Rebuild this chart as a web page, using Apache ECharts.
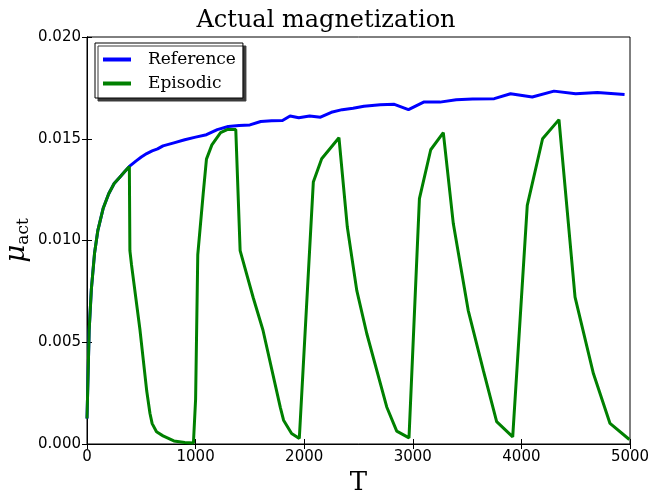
<!DOCTYPE html>
<html>
<head>
<meta charset="utf-8">
<script src="https://cdn.jsdelivr.net/npm/echarts@6/dist/echarts.min.js"></script>
<style>html,body{margin:0;padding:0;background:#fff}#c{width:652px;height:496px}</style>
</head>
<body>
<div id="c"></div>
<script>
const titleText = "Actual magnetization";
const xTicks = [0, 1000, 2000, 3000, 4000, 5000];
const yTicks = [0, 0.005, 0.010, 0.015, 0.020];

const refT = [0, 20, 40, 70, 100, 150, 200, 250, 300, 350, 390, 450, 500, 550, 600, 650, 700, 800, 900, 1000,
  1100, 1200, 1300, 1400, 1500, 1600, 1700, 1800, 1870, 1950, 2050, 2150, 2250, 2350, 2450, 2550, 2700, 2830,
  2960, 3100, 3250, 3400, 3550, 3750, 3900, 4100, 4300, 4500, 4700, 4950];
const refV = [0.00125, 0.0056, 0.0076, 0.0094, 0.0105, 0.0116, 0.0123, 0.0128, 0.0131, 0.0134, 0.01364, 0.0139,
  0.0141, 0.01427, 0.0144, 0.0145, 0.01465, 0.0148, 0.01495, 0.01508, 0.0152, 0.01545, 0.0156, 0.01565, 0.01568,
  0.01585, 0.01588, 0.0159, 0.01612, 0.01603, 0.01612, 0.01606, 0.0163, 0.01643, 0.0165, 0.0166, 0.01667, 0.01669,
  0.01643, 0.0168, 0.0168, 0.01692, 0.01695, 0.01697, 0.01721, 0.01705, 0.01734, 0.01721, 0.01727, 0.01717];

const epiT = [0, 20, 40, 70, 100, 150, 200, 250, 300, 350, 390, 395, 410, 488, 550, 580, 600, 640, 700, 800, 900, 980,
  1000, 1020, 1070, 1100, 1150, 1230, 1290, 1370, 1410, 1530, 1620, 1780, 1810, 1884, 1955,
  2084, 2161, 2320, 2397, 2484, 2576, 2760, 2852, 2965,
  3061, 3165, 3281, 3373, 3510, 3650, 3772, 3920,
  4054, 4195, 4346, 4494, 4663, 4816, 4994];
const epiV = [0.00125, 0.0056, 0.0076, 0.0094, 0.0105, 0.0116, 0.0123, 0.0128, 0.0131, 0.0134, 0.01364, 0.0095, 0.0088,
  0.0056, 0.0026, 0.0015, 0.0010, 0.0006, 0.0004, 0.00015, 0.00007, 0.00005,
  0.0022, 0.0093, 0.0123, 0.0140, 0.0147, 0.0153, 0.01545, 0.01545, 0.0095, 0.0072, 0.0056, 0.0018, 0.00117, 0.00052, 0.00027,
  0.01287, 0.01402, 0.01505, 0.01066, 0.00755, 0.00543, 0.00182, 0.00063, 0.0003,
  0.01206, 0.01446, 0.0153, 0.01083, 0.00657, 0.0036, 0.0011, 0.00035,
  0.01173, 0.0150, 0.01594, 0.00722, 0.00346, 0.00101, 0.00022];

const pairs = (t, v) => t.map((x, i) => [x, v[i]]);
const chart = echarts.init(document.getElementById('c'), null, {renderer: 'canvas'});
const serif = 'DejaVu Serif';
const sans = 'DejaVu Sans';
const tickStyle = {show: true, inside: true, length: 5, lineStyle: {color: '#000', width: 1}};
chart.setOption({
  animation: false,
  backgroundColor: '#fff',
  title: {text: titleText, left: 'center', top: 4, textStyle: {fontFamily: serif, fontWeight: 'normal', fontSize: 24, color: '#000'}},
  grid: {left: 87, right: 22, top: 37, bottom: 52, show: true, borderColor: '#000', borderWidth: 1,
         containLabel: false, outerBoundsMode: 'none'},
  legend: {
    orient: 'vertical', left: 95, top: 43, itemWidth: 28, itemHeight: 4, itemGap: 7,
    padding: [8, 7, 6, 8], icon: 'rect',
    backgroundColor: '#fff', borderColor: '#000', borderWidth: 1, borderRadius: 0,
    shadowColor: '#3a3a3a', shadowBlur: 0, shadowOffsetX: 3, shadowOffsetY: 3,
    textStyle: {fontFamily: serif, fontSize: 17, color: '#000', padding: [0, 0, 0, 12]},
    data: ['Reference', 'Episodic']
  },
  xAxis: [
    {type: 'value', min: xTicks[0], max: xTicks[xTicks.length - 1], interval: 1000,
     name: 'T', nameLocation: 'middle', nameGap: 26, nameMoveOverlap: false,
     nameTextStyle: {fontFamily: serif, fontSize: 26, color: '#000'},
     axisLine: {show: true, lineStyle: {color: '#000', width: 1}}, axisTick: tickStyle,
     axisLabel: {fontFamily: sans, fontSize: 15, color: '#000', margin: 6, formatter: v => String(v)},
     splitLine: {show: false}},
    {type: 'value', position: 'top', min: xTicks[0], max: xTicks[xTicks.length - 1], interval: 1000,
     axisLine: {show: true, lineStyle: {color: '#000', width: 1}}, axisTick: tickStyle,
     axisLabel: {show: false}, splitLine: {show: false}}
  ],
  yAxis: [
    {type: 'value', min: yTicks[0], max: yTicks[yTicks.length - 1], interval: 0.005,
     name: '{mu|μ}{sub|act}', nameLocation: 'middle', nameGap: 55, nameRotate: 90, nameMoveOverlap: false,
     nameTextStyle: {rich: {
       mu: {fontFamily: serif, fontStyle: 'italic', fontSize: 28, color: '#000'},
       sub: {fontFamily: serif, fontSize: 17, color: '#000', padding: [14, 0, 0, 0]}
     }},
     axisLine: {show: true, lineStyle: {color: '#000', width: 1}}, axisTick: tickStyle,
     axisLabel: {fontFamily: sans, fontSize: 15, color: '#000', margin: 6, formatter: v => v.toFixed(3)},
     splitLine: {show: false}},
    {type: 'value', position: 'right', min: yTicks[0], max: yTicks[yTicks.length - 1], interval: 0.005,
     axisLine: {show: true, lineStyle: {color: '#000', width: 1}}, axisTick: tickStyle,
     axisLabel: {show: false}, splitLine: {show: false}}
  ],
  series: [
    {name: 'Reference', type: 'line', data: pairs(refT, refV), showSymbol: false, symbol: 'none',
     itemStyle: {color: '#0000ff'}, lineStyle: {color: '#0000ff', width: 3}, z: 3},
    {name: 'Episodic', type: 'line', data: pairs(epiT, epiV), showSymbol: false, symbol: 'none',
     itemStyle: {color: '#008000'}, lineStyle: {color: '#008000', width: 3}, z: 4}
  ]
});
</script>
</body>
</html>
